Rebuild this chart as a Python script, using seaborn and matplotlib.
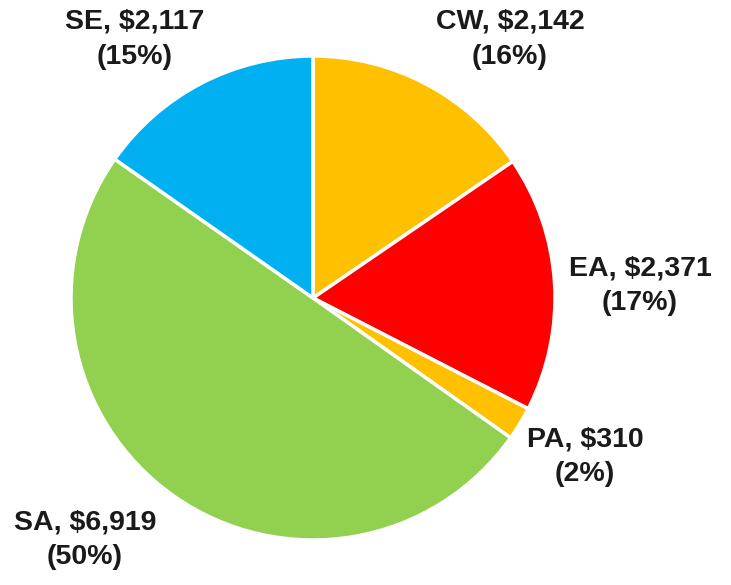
import matplotlib
matplotlib.use('Agg')
import matplotlib.pyplot as plt
import seaborn as sns

# Pie data (clockwise from 12 o'clock)
regions = ['CW', 'EA', 'PA', 'SA', 'SE']
amounts = [2142, 2371, 310, 6919, 2117]
percents = [16, 17, 2, 50, 15]
colors = ['#FFC000', '#FF0000', '#FFC000', '#92D050', '#00B0F0']

# label anchor positions (data units, radius = 1)
label_pos = [(0.814, 1.07), (1.351, 0.05), (1.124, -0.655), (-0.942, -1.0), (-0.736, 1.07)]

sns.set_style('white')
plt.rcParams['font.family'] = ['Liberation Sans', 'DejaVu Sans']

fig = plt.figure(figsize=(7.31, 5.85), dpi=100)
cx, cy, r = 313, 298, 242
ax = fig.add_axes([(cx - r) / 731, (585 - cy - r) / 585, 2 * r / 731, 2 * r / 585])

ax.pie(amounts, colors=colors, startangle=90, counterclock=False, radius=1,
       wedgeprops=dict(edgecolor='white', linewidth=2.5))
ax.set_xlim(-1, 1)
ax.set_ylim(-1, 1)
ax.set_aspect('auto')
ax.axis('off')

for name, val, pct, (x, y) in zip(regions, amounts, percents, label_pos):
    ax.text(x, y, f'{name}, ${val:,}\n({pct}%)', ha='center', va='center',
            fontsize=20.5, fontweight='bold', color='#1a1a1a', linespacing=1.45,
            clip_on=False)

fig.savefig('out.png', dpi=100)
